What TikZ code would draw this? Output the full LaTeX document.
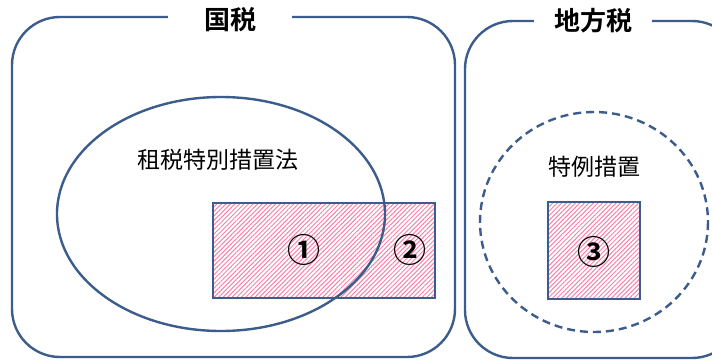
\documentclass[tikz,border=0pt]{standalone}
\usepackage{fontspec}
\setmainfont{Noto Sans CJK JP}
\newfontfamily\jpbold{Noto Sans CJK JP Bold}
\usetikzlibrary{patterns.meta}
\definecolor{frame}{RGB}{60,92,140}
\definecolor{hatch}{RGB}{250,130,170}
\tikzset{
  framebox/.style={draw=frame, line width=2.4pt, rounded corners=48pt},
  titlelbl/.style={fill=white, inner ysep=2pt, font=\jpbold\fontsize{26}{28}\selectfont},
  bodylbl/.style={font=\fontsize{23}{25}\selectfont},
  numlbl/.style={font=\jpbold\fontsize{33}{35}\selectfont},
  hatchbox/.style={draw=frame, line width=2.4pt,
    pattern={Lines[angle=45, distance=3.2pt, line width=1pt]}, pattern color=hatch}
}
\begin{document}
\begin{tikzpicture}[x=1pt,y=-1pt]
\clip (0,0) rectangle (712,362);
\fill[white] (0,0) rectangle (712,362);
% left frame
\draw[framebox] (12,17) rectangle (455,357);
\node[titlelbl, inner xsep=36pt] (kokuzei) at (230,20) {国税};
% right frame
\draw[framebox] (465,21) rectangle (740,358);
\node[titlelbl, inner xsep=20pt] (chihou) at (593,21) {地方税};
% hatched rects
\draw[hatchbox] (213,203) rectangle (435,298);
\draw[hatchbox] (548,202) rectangle (640,299);
% ellipse
\draw[draw=frame, line width=2.4pt] (221,214) ellipse [x radius=164, y radius=117];
\node[bodylbl] (sozei) at (218,160) {租税特別措置法};
% dashed circle
\draw[draw=frame, line width=2.4pt, dash pattern=on 8pt off 5pt] (594,222) ellipse [x radius=114, y radius=110];
\node[bodylbl] (tokurei) at (594,167) {特例措置};
% numbers
\node[numlbl] (n1) at (304,250) {①};
\node[numlbl] (n2) at (410,250) {②};
\node[numlbl] (n3) at (594,252) {③};
\end{tikzpicture}
\end{document}
